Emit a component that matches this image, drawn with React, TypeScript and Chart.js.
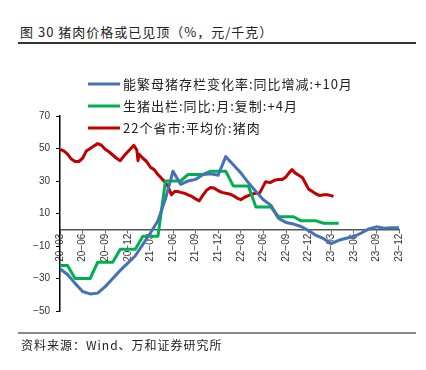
import React, { useEffect, useRef } from "react";
import { Chart, registerables } from "chart.js";

Chart.register(...registerables);

// X tick labels (every 3 months, index = months since 2020-03)
const tickLabels = ["20-03","20-06","20-09","20-12","21-03","21-06","21-09","21-12","22-03","22-06","22-09","22-12","23-03","23-06","23-09","23-12"];

const seriesNames = [
  "能繁母猪存栏变化率:同比增减:+10月",
  "生猪出栏:同比:月:复制:+4月",
  "22个省市:平均价:猪肉",
];

// monthly, starting 2020-03
const sowValues = [-24,-27.5,-33,-38,-39.5,-39,-35,-30,-25,-20.5,-16,-9,-2,5.5,19,36,28,30,31,34,34.5,33.5,45,40,35,29,23.5,18.5,15,7,4.5,3.5,2,-0.5,-3.5,-5.5,-8.5,-6.5,-5.2,-4.2,-2,0.5,1.8,1,1.2,1.3];

// monthly, starting 2020-03
const hogValues = [-22,-22,-30,-30,-30,-20,-20,-20,-12,-12,-12,-4,-4,-4,30,30,30,34,34,34,36,36,36,27,27,27,14,14,14,8,8,8,5.5,5.5,5.5,4,4,4];

// pork price: position in months since 2020-03, value
const porkMonths = [0,0.5,1,1.5,2,2.5,3,3.5,4,4.5,5,5.5,6,6.5,7,7.5,8,8.5,9,9.5,9.8,10.2,10.35,10.5,11,11.5,12,12.5,13,13.5,14,14.4,14.8,15.2,15.6,16,16.5,17,17.5,18,18.5,19,19.5,20,20.5,21,21.5,22,22.5,23,23.5,24,24.5,25,25.5,26,26.5,27,27.3,27.9,28.5,29,29.5,30,30.4,30.8,31.2,31.7,32.2,32.6,33,33.5,34,34.5,35,35.5,36,36.3];
const porkValues = [49.5,48.5,46.5,43.5,42,42,44,48.5,50,51.5,53,52,49.5,48,46,44,42.5,45.5,48,50.5,52,49,42.5,46.5,44,42,38.5,37,34,31.5,29,26,21.5,23.5,23.5,23,22.5,21.5,20.5,19,17.8,21.5,24.5,26,25.5,24,23,22.5,22,21,19.5,18.5,20,21,22,22.5,22.5,27,29.5,29,30.5,31,31,32.5,35,37,35,33.5,32,28.5,25,23.5,22,21,21.5,21.5,21,20.5];

const colors = ["#4472b4", "#00b050", "#c00000"];

const FONT = "'Noto Sans CJK SC', 'Noto Sans', sans-serif";

const legendPlugin = {
  id: "customLegend",
  afterDraw(chart: any) {
    const ctx = chart.ctx;
    ctx.save();
    const x0 = 88, x1 = 120, ys = [84, 106, 128];
    chart.data.datasets.forEach((ds: any, i: number) => {
      const y = ys[i];
      ctx.strokeStyle = ds.borderColor;
      ctx.lineWidth = 3;
      ctx.beginPath();
      ctx.moveTo(x0, y);
      ctx.lineTo(x1, y);
      ctx.stroke();
      ctx.fillStyle = "#222";
      ctx.font = "13px " + FONT;
      try { (ctx as any).letterSpacing = "1px"; } catch (e) {}
      ctx.textBaseline = "middle";
      ctx.textAlign = "left";
      ctx.fillText(ds.label, x1 + 3, y);
    });
    ctx.restore();
  },
};

export default function App() {
  const ref = useRef<HTMLCanvasElement | null>(null);
  useEffect(() => {
    const canvas = ref.current;
    if (!canvas) return;
    const sowData = sowValues.map((v, i) => ({ x: i, y: v }));
    const hogData = hogValues.map((v, i) => ({ x: i, y: v }));
    const porkData = porkValues.map((v, i) => ({ x: porkMonths[i], y: v }));
    const chart = new Chart(canvas, {
      type: "line",
      data: {
        datasets: [
          { label: seriesNames[0], data: sowData, borderColor: colors[0], backgroundColor: colors[0], borderWidth: 3, pointRadius: 0, tension: 0, borderJoinStyle: "round" as const },
          { label: seriesNames[1], data: hogData, borderColor: colors[1], backgroundColor: colors[1], borderWidth: 3, pointRadius: 0, tension: 0, borderJoinStyle: "round" as const },
          { label: seriesNames[2], data: porkData, borderColor: colors[2], backgroundColor: colors[2], borderWidth: 3, pointRadius: 0, tension: 0, borderJoinStyle: "round" as const },
        ],
      },
      options: {
        responsive: false,
        animation: false,
        devicePixelRatio: 1,
        layout: { padding: { left: 8, top: 116, right: 27, bottom: 59 } },
        plugins: { legend: { display: false }, tooltip: { enabled: false }, title: { display: false } },
        scales: {
          x: {
            type: "linear",
            position: { y: 0 } as any,
            min: 0,
            max: 45,
            grid: { display: true, drawOnChartArea: false, drawTicks: true, tickLength: 3, color: "#666" },
            border: { display: true, color: "#555", width: 1.5 },
            ticks: {
              stepSize: 3,
              autoSkip: false,
              maxRotation: 90,
              minRotation: 90,
              padding: 1,
              color: "#333",
              font: { size: 10, family: "'Liberation Sans', Arial, sans-serif" },
              callback: (v: any) => {
                const lab = tickLabels[Math.round(Number(v) / 3)];
                return lab ? lab.replace("-", "−") : "";
              },
            },
          },
          y: {
            type: "linear",
            min: -50,
            max: 70,
            afterFit: (scale: any) => { scale.width = 52; },
            grid: { display: true, drawOnChartArea: false, drawTicks: true, tickLength: 4, color: "#000" },
            border: { display: true, color: "#000", width: 1.5 },
            ticks: {
              stepSize: 20,
              padding: 6,
              color: "#333",
              font: { size: 10, family: "'Liberation Sans', Arial, sans-serif" },
              callback: (v: any) => (Number(v) < 0 ? "−" + Math.abs(Number(v)) : String(v)),
            },
          },
        },
      },
      plugins: [legendPlugin],
    });
    return () => chart.destroy();
  }, []);

  return (
    <div style={{ position: "absolute", left: 0, top: 0, width: 426, height: 370, background: "#fff", overflow: "hidden" }}>
      <div style={{ position: "absolute", left: 20, top: 22, fontFamily: FONT, fontSize: 13, letterSpacing: "1px", color: "#222", whiteSpace: "nowrap", lineHeight: "20px" }}>
        图 30 猪肉价格或已见顶（%，元/千克）
      </div>
      <div style={{ position: "absolute", left: 18, top: 42, width: 398, height: 1.5, background: "#333" }} />
      <canvas ref={ref} width={426} height={370} style={{ position: "absolute", left: 0, top: 0, width: 426, height: 370 }} />
      <div style={{ position: "absolute", left: 18, top: 332, width: 398, height: 1.5, background: "#888" }} />
      <div style={{ position: "absolute", left: 21, top: 336, fontFamily: FONT, fontSize: 12, letterSpacing: "1px", color: "#222", whiteSpace: "nowrap", lineHeight: "18px" }}>
        资料来源：Wind、万和证券研究所
      </div>
    </div>
  );
}
